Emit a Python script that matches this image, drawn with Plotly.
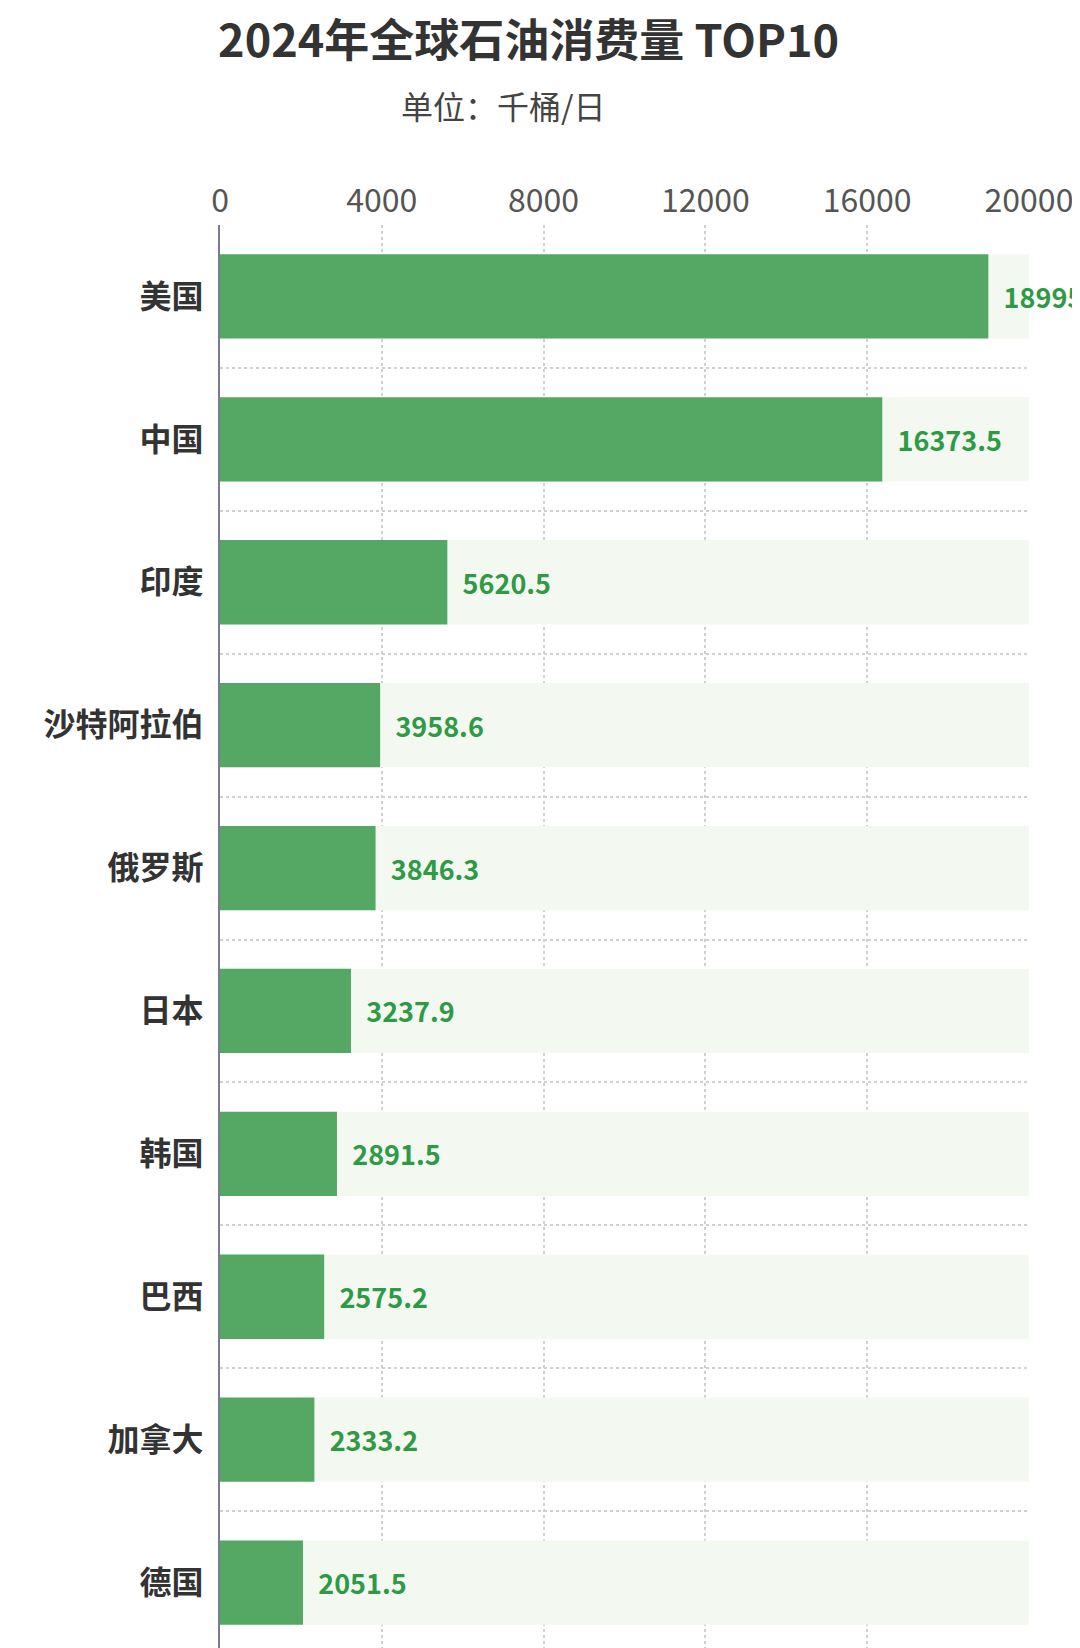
import plotly.graph_objects as go

countries = ["美国", "中国", "印度", "沙特阿拉伯", "俄罗斯", "日本", "韩国", "巴西", "加拿大", "德国"]
values = [18995, 16373.5, 5620.5, 3958.6, 3846.3, 3237.9, 2891.5, 2575.2, 2333.2, 2051.5]
x_max = 20000
x_ticks = [0, 4000, 8000, 12000, 16000, 20000]

pos = list(range(len(countries)))
labels = [f"  {v:g}" for v in values]

fig = go.Figure()
# light background track
fig.add_trace(go.Bar(y=pos, x=[x_max] * len(pos), orientation="h", width=0.59,
                     marker=dict(color="#f3f9f1", line_width=0), hoverinfo="skip", showlegend=False))
fig.add_trace(go.Bar(y=pos, x=values, orientation="h", width=0.59,
                     marker=dict(color="#55a863", line_width=0),
                     text=labels, textposition="outside", cliponaxis=False,
                     textfont=dict(size=27, color="#2f9a45", family="Noto Sans CJK SC", weight="bold"),
                     showlegend=False))

fig.update_layout(
    width=1080, height=1648, barmode="overlay",
    plot_bgcolor="white", paper_bgcolor="white",
    margin=dict(l=212, r=59, t=217, b=2),
    font=dict(family="Noto Sans CJK SC", color="#333"),
    title=dict(text="<b>2024年全球石油消费量 TOP10</b>", x=0.482, xanchor="center", y=0.98, yanchor="middle",
               font=dict(size=45, color="#333")),
    annotations=[dict(text="单位：千桶/日", xref="paper", yref="paper", x=0.35, y=1.084,
                      xanchor="center", yanchor="middle", showarrow=False,
                      font=dict(size=32, color="#444"))],
)
fig.update_xaxes(side="top", range=[0, x_max], tickvals=x_ticks, ticktext=[str(t) for t in x_ticks],
                 tickfont=dict(size=32, color="#555"),
                 showgrid=True, gridcolor="#d0d0d0", griddash="dot", gridwidth=1.5,
                 zeroline=False, ticks="", ticklabelstandoff=6)
fig.update_yaxes(range=[len(pos) - 0.5, -0.5], tickvals=pos, ticktext=countries,
                 tickfont=dict(size=32, color="#333", weight="bold"), ticks="", ticklabelstandoff=8,
                 showgrid=False, showline=True, linecolor="#7b7b8f", linewidth=2,
                 minor=dict(tickvals=[i - 0.5 for i in range(len(pos) + 1)], showgrid=True,
                            gridcolor="#d0d0d0", griddash="dot", gridwidth=1.5, ticks=""))

fig.write_html("out.html")
